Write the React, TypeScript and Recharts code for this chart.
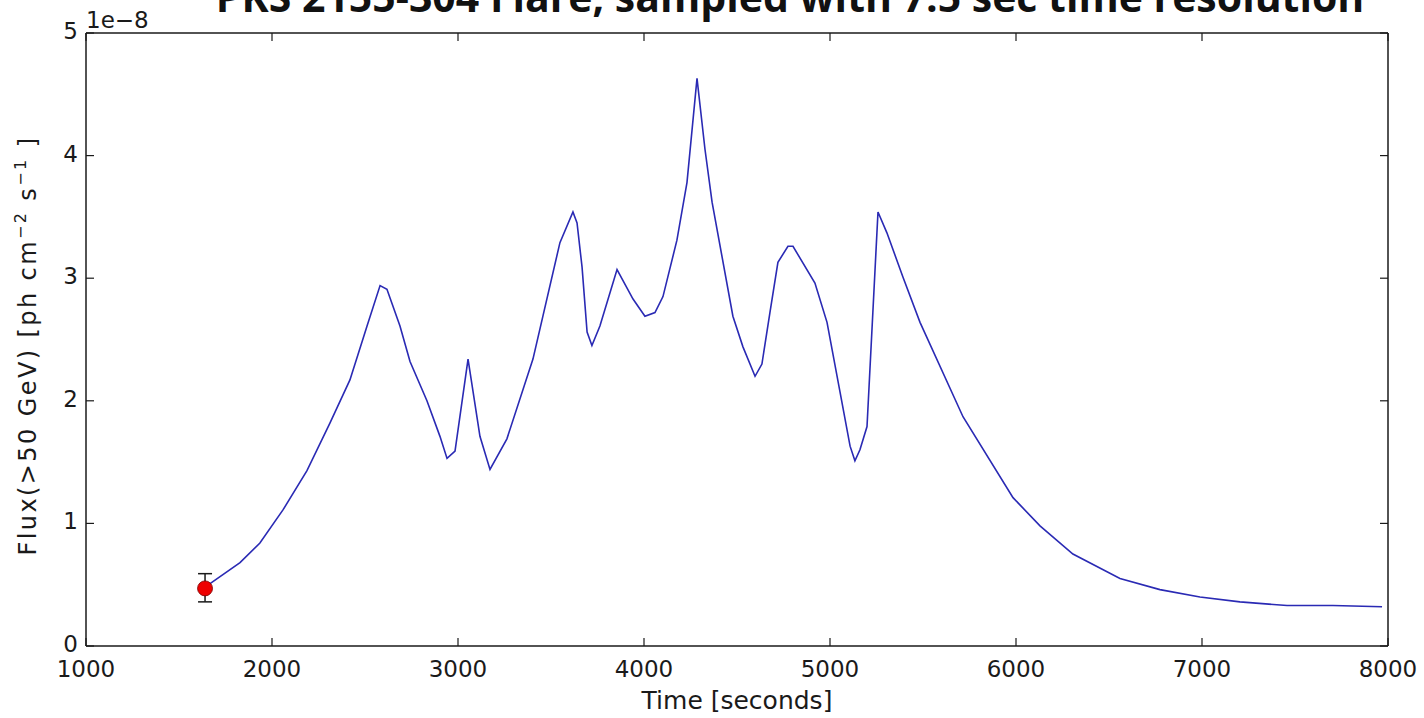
import { ComposedChart, Line, Scatter, ErrorBar, XAxis, YAxis, Label } from "recharts";

// light curve, flux in units of 1e-8 ph cm^-2 s^-1
const TIME_S = [
  1640, 1828, 1935, 2059, 2188, 2312, 2419, 2511, 2581, 2618, 2688, 2742, 2833,
  2903, 2941, 2984, 3054, 3118, 3172, 3263, 3403, 3548, 3618, 3640, 3667, 3694,
  3720, 3763, 3855, 3941, 4005, 4059, 4102, 4177, 4231, 4285, 4328, 4366, 4478,
  4532, 4597, 4634, 4677, 4720, 4774, 4801, 4919, 4984, 5054, 5108, 5134, 5161,
  5199, 5258, 5306, 5392, 5484, 5715, 5984, 6129, 6306, 6559, 6774, 6989, 7204,
  7457, 7704, 7968,
];
const FLUX = [
  0.48, 0.68, 0.84, 1.11, 1.43, 1.82, 2.17, 2.61, 2.94, 2.91, 2.61, 2.32, 2.0,
  1.71, 1.53, 1.59, 2.34, 1.71, 1.44, 1.69, 2.34, 3.29, 3.54, 3.45, 3.09, 2.56,
  2.45, 2.61, 3.07, 2.83, 2.69, 2.72, 2.85, 3.31, 3.78, 4.63, 4.05, 3.62, 2.69,
  2.44, 2.2, 2.3, 2.72, 3.13, 3.26, 3.26, 2.96, 2.64, 2.07, 1.63, 1.51, 1.6,
  1.79, 3.54, 3.37, 3.01, 2.64, 1.87, 1.21, 0.98, 0.75, 0.55, 0.46, 0.4, 0.36,
  0.33, 0.33, 0.32,
];

// first measured bin with its error
const POINT_T = [1640];
const POINT_F = [0.47];
const POINT_ERR_LO = [0.11];
const POINT_ERR_HI = [0.12];

const X_TICKS = [1000, 2000, 3000, 4000, 5000, 6000, 7000, 8000];
const Y_TICKS = [0, 1, 2, 3, 4, 5];

const curve = TIME_S.map((t, i) => ({ t, f: FLUX[i] }));
const points = POINT_T.map((t, i) => ({
  t,
  f: POINT_F[i],
  err: [POINT_ERR_LO[i], POINT_ERR_HI[i]],
}));

const FONT = "DejaVu Sans";
const TICK_LEN = 8;
const INK = "#1a1a1a";
const AXIS_LINE = { stroke: INK, strokeWidth: 1.5 };

function BottomTick({ x, y, payload }: any) {
  return (
    <g>
      <line x1={x} y1={y} x2={x} y2={y - TICK_LEN} stroke={INK} strokeWidth={1.2} />
      <text x={x} y={y + 31} textAnchor="middle" fontFamily={FONT} fontSize={23} fill={INK}>
        {payload.value}
      </text>
    </g>
  );
}

function TopTick({ x, y }: any) {
  return <line x1={x} y1={y} x2={x} y2={y + TICK_LEN} stroke={INK} strokeWidth={1.2} />;
}

function LeftTick({ x, y, payload }: any) {
  return (
    <g>
      <line x1={x} y1={y} x2={x + TICK_LEN} y2={y} stroke={INK} strokeWidth={1.2} />
      <text x={x - 8} y={y + 6} textAnchor="end" fontFamily={FONT} fontSize={23} fill={INK}>
        {payload.value}
      </text>
    </g>
  );
}

function RightTick({ x, y }: any) {
  return <line x1={x} y1={y} x2={x - TICK_LEN} y2={y} stroke={INK} strokeWidth={1.2} />;
}

function FluxLabel({ viewBox }: any) {
  const cx = viewBox.x + viewBox.width - 50;
  const cy = viewBox.y + viewBox.height / 2 + 6;
  return (
    <text
      transform={`translate(${cx},${cy}) rotate(-90)`}
      textAnchor="middle"
      fontFamily={FONT}
      fontSize={24}
      letterSpacing={2.4}
      fill={INK}
    >
      Flux(&gt;50 GeV) [ph cm
      <tspan fontSize={16} dy={-10}>−2</tspan>
      <tspan dy={10}> s</tspan>
      <tspan fontSize={16} dy={-10}>−1</tspan>
      <tspan dy={10}> ]</tspan>
    </text>
  );
}

function TimeLabel({ viewBox }: any) {
  return (
    <text
      x={viewBox.x + viewBox.width / 2}
      y={viewBox.y + 63}
      textAnchor="middle"
      fontFamily={FONT}
      fontSize={25}
      fill={INK}
    >
      Time [seconds]
    </text>
  );
}

export default function App() {
  return (
    <div style={{ position: "absolute", left: 0, top: 0, width: 1424, height: 718, background: "#fff" }}>
      <ComposedChart
        width={1424}
        height={718}
        data={curve}
        margin={{ top: 23, right: 26, bottom: 42, left: 26 }}
      >
        <XAxis
          xAxisId="b"
          dataKey="t"
          type="number"
          domain={[1000, 8000]}
          ticks={X_TICKS}
          height={30}
          tickSize={0}
          tickMargin={0}
          tick={<BottomTick />}
          axisLine={AXIS_LINE}
          allowDataOverflow
        >
          <Label content={<TimeLabel />} />
        </XAxis>
        <XAxis
          xAxisId="top"
          orientation="top"
          dataKey="t"
          type="number"
          domain={[1000, 8000]}
          ticks={X_TICKS}
          height={10}
          tickSize={0}
          tickMargin={0}
          tick={<TopTick />}
          axisLine={AXIS_LINE}
          allowDataOverflow
        />
        <YAxis
          yAxisId="l"
          type="number"
          domain={[0, 5]}
          ticks={Y_TICKS}
          width={60}
          tickSize={0}
          tickMargin={0}
          tick={<LeftTick />}
          axisLine={AXIS_LINE}
          allowDataOverflow
        >
          <Label content={<FluxLabel />} />
        </YAxis>
        <YAxis
          yAxisId="r"
          orientation="right"
          type="number"
          domain={[0, 5]}
          ticks={Y_TICKS}
          width={10}
          tickSize={0}
          tickMargin={0}
          tick={<RightTick />}
          axisLine={AXIS_LINE}
          allowDataOverflow
        />
        <Line
          xAxisId="b"
          yAxisId="l"
          type="linear"
          dataKey="f"
          stroke="#2a2ab4"
          strokeWidth={1.6}
          dot={false}
          activeDot={false}
          isAnimationActive={false}
        />
        <Scatter
          xAxisId="b"
          yAxisId="l"
          data={points}
          dataKey="f"
          fill="#ee0000"
          shape={(p: any) => (
            <circle cx={p.cx} cy={p.cy} r={7.5} fill="#ee0000" stroke="#7a0000" strokeWidth={0.8} />
          )}
          isAnimationActive={false}
        >
          <ErrorBar dataKey="err" direction="y" width={7} stroke={INK} strokeWidth={1.5} />
        </Scatter>
      </ComposedChart>
      <svg
        width={1424}
        height={40}
        style={{ position: "absolute", left: 0, top: 0, pointerEvents: "none" }}
      >
        <text x={790} y={12} textAnchor="middle" fontFamily="Open Sans" fontWeight={700} fontSize={41} fill="#111">
          PKS 2155-304 Flare, sampled with 7.5 sec time resolution
        </text>
        <text x={86} y={28} fontFamily={FONT} fontSize={23} fill={INK}>
          1e−8
        </text>
      </svg>
    </div>
  );
}
